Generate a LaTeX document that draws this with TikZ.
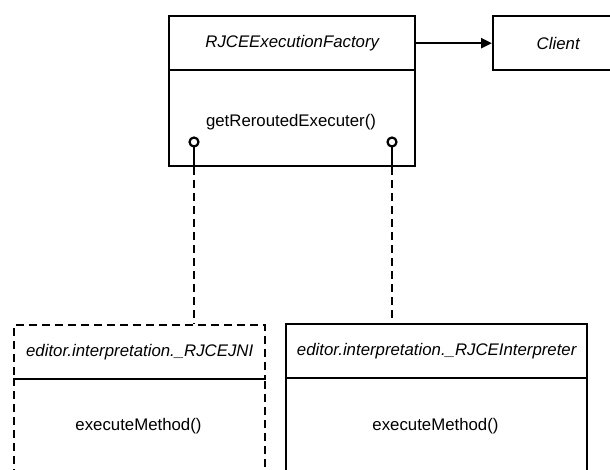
\documentclass[tikz,border=0pt]{standalone}
\usepackage{fontspec}
\setmainfont{Liberation Sans}
\usetikzlibrary{arrows.meta}
\begin{document}
\begin{tikzpicture}[x=1pt,y=-1pt,
  every node/.style={font=\fontsize{16.8}{20}\selectfont},
  compartment/.style={draw, line width=2.4pt, inner sep=0pt, anchor=north west},
  dashcompartment/.style={compartment, dash pattern=on 8pt off 5pt},
  label/.style={inner sep=0pt},
  classname/.style={font=\fontsize{16.8}{20}\selectfont\itshape},
  realizes/.style={line width=2.4pt, dash pattern=on 8pt off 5pt},
  solidline/.style={line width=2.4pt},
  lollipop/.style={line width=2.2pt},
  assoc/.style={line width=2.4pt, -{Triangle[length=11pt,width=10pt]}}
]
\useasboundingbox (0,0) rectangle (610,470);
\clip (0,0) rectangle (610,470);

% factory class
\node[compartment, classname, minimum width=246pt, minimum height=54pt] (factoryTitle) at (168,15) {RJCEExecutionFactory};
\node[compartment, minimum width=246pt, minimum height=96pt] (factoryOps) at (168,69) {};
\node[label] (factoryOp) at (291,122) {getReroutedExecuter()};

% client class
\node[compartment, classname, minimum width=130pt, minimum height=54pt] (clientBox) at (492,15) {Client};
\draw[assoc] (factoryTitle.east) -- (clientBox.west);

% JNI class (dashed outline)
\node[dashcompartment, classname, minimum width=251pt, minimum height=54pt] (jniTitle) at (13,324) {editor.interpretation.\_RJCEJNI};
\node[dashcompartment, minimum width=251pt, minimum height=110pt] (jniOps) at (13,378) {};
\node[label] (jniOp) at (138.5,426) {executeMethod()};

% interpreter class
\node[compartment, classname, minimum width=301pt, minimum height=54pt] (interpTitle) at (285,323) {editor.interpretation.\_RJCEInterpreter};
\node[compartment, minimum width=301pt, minimum height=110pt] (interpOps) at (285,377) {};
\node[label] (interpOp) at (435.5,426) {executeMethod()};

% provided interfaces
\coordinate (ifL) at (194,142);
\coordinate (ifR) at (392,142);
\draw[lollipop] (ifL) circle[radius=4.5pt];
\draw[lollipop] (ifR) circle[radius=4.5pt];
\draw[solidline] ([yshift=-4.5pt]ifL) -- (ifL |- factoryOps.south);
\draw[solidline] ([yshift=-4.5pt]ifR) -- (ifR |- factoryOps.south);

% realization links
\draw[realizes] (ifL |- factoryOps.south) -- (ifL |- jniTitle.north);
\draw[realizes] (ifR |- factoryOps.south) -- (ifR |- interpTitle.north);
\end{tikzpicture}
\end{document}
